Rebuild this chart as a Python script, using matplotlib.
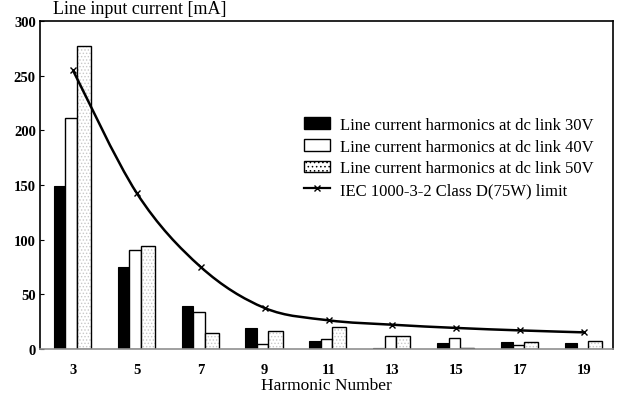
import matplotlib
matplotlib.use("Agg")
import matplotlib.pyplot as plt
import numpy as np
from matplotlib.path import Path
from matplotlib.patches import PathPatch, Patch
from matplotlib.lines import Line2D

harmonics = [3, 5, 7, 9, 11, 13, 15, 17, 19]
dc30 = [149, 75, 39, 19, 7, 1, 5.5, 6, 5.5]
dc40 = [211, 91, 34, 4.5, 9, 12, 10, 4, 0]
dc50 = [277, 94, 14.5, 16.5, 20, 12, 0.5, 6, 7]
iec_limit = [255, 142.5, 75, 37.5, 26.25, 22.2, 19.25, 17.0, 15.2]
labels = ["Line current harmonics at dc link 30V",
          "Line current harmonics at dc link 40V",
          "Line current harmonics at dc link 50V",
          "IEC 1000-3-2 Class D(75W) limit"]

plt.rcParams['font.family'] = ['Liberation Serif', 'DejaVu Serif']
plt.rcParams['hatch.linewidth'] = 0.6

fig = plt.figure(figsize=(6.22, 4.02), dpi=100)
ax = fig.add_axes([40/622, 1-350/402, (613-40)/622, (350-22)/402])

x = np.array(harmonics, dtype=float)
w = 0.36
ax.bar(x - w - 0.06, dc30, width=w, color='black', edgecolor='black', linewidth=0.8, zorder=2)
ax.bar(x - 0.06, dc40, width=w, color='white', edgecolor='black', linewidth=1.0, zorder=2)
ax.bar(x + w - 0.02, dc50, width=w + 0.08, color='white', edgecolor='#c8c8c8', hatch='.....', linewidth=0, zorder=2)
ax.bar(x + w - 0.02, dc50, width=w + 0.08, fill=False, edgecolor='black', linewidth=1.0, zorder=2.1)

# smooth curve through limit points (Catmull-Rom -> cubic Bezier)
pts = np.column_stack([x, iec_limit])
verts = [tuple(pts[0])]
codes = [Path.MOVETO]
n = len(pts)
for i in range(n - 1):
    p0 = pts[i - 1] if i > 0 else pts[i]
    p1 = pts[i]
    p2 = pts[i + 1]
    p3 = pts[i + 2] if i + 2 < n else pts[i + 1]
    c1 = p1 + (p2 - p0) / 6.0
    c2 = p2 - (p3 - p1) / 6.0
    verts += [tuple(c1), tuple(c2), tuple(p2)]
    codes += [Path.CURVE4] * 3
ax.add_patch(PathPatch(Path(verts, codes), fill=False, edgecolor='black', linewidth=1.8, zorder=3))
ax.plot(x, iec_limit, linestyle='none', marker='x', color='black', markersize=4, markeredgewidth=1.0, zorder=4)

ax.set_xlim(1.97, 19.9)
ax.set_ylim(0, 300)
ax.set_xticks(harmonics)
ax.set_xticklabels([str(h) for h in harmonics], fontsize=10.5, fontweight='bold')
ax.set_yticks([0, 50, 100, 150, 200, 250, 300])
ax.set_yticklabels(['0', '50', '100', '150', '200', '250', '300'], fontsize=10.5, fontweight='bold')
ax.tick_params(axis='x', length=0, pad=10)
ax.tick_params(axis='y', length=3, direction='in', pad=3)
for s in ['left', 'top', 'right']:
    ax.spines[s].set_linewidth(1.2)
ax.spines['bottom'].set_color('#909090')
ax.spines['bottom'].set_linewidth(1.2)

ax.set_xlabel('Harmonic Number', fontsize=12.5)
ax.xaxis.set_label_coords(0.5, -0.085)

fig.text(53/622, 1 - 14/402, 'Line input current [mA]', fontsize=13, va='baseline', ha='left')

handles = [Patch(facecolor='black', edgecolor='black'),
           Patch(facecolor='white', edgecolor='black'),
           Patch(facecolor='white', edgecolor='black', hatch='....'),
           Line2D([], [], color='black', marker='x', markersize=4, linewidth=1.6)]
leg = ax.legend(handles, labels, loc='upper left', bbox_to_anchor=((297-40)/573, 1-(111-22)/328),
                frameon=False, fontsize=12, handlelength=1.6, handleheight=0.7,
                handletextpad=0.6, labelspacing=0.35, borderaxespad=0)

fig.savefig('out.png', dpi=100)
